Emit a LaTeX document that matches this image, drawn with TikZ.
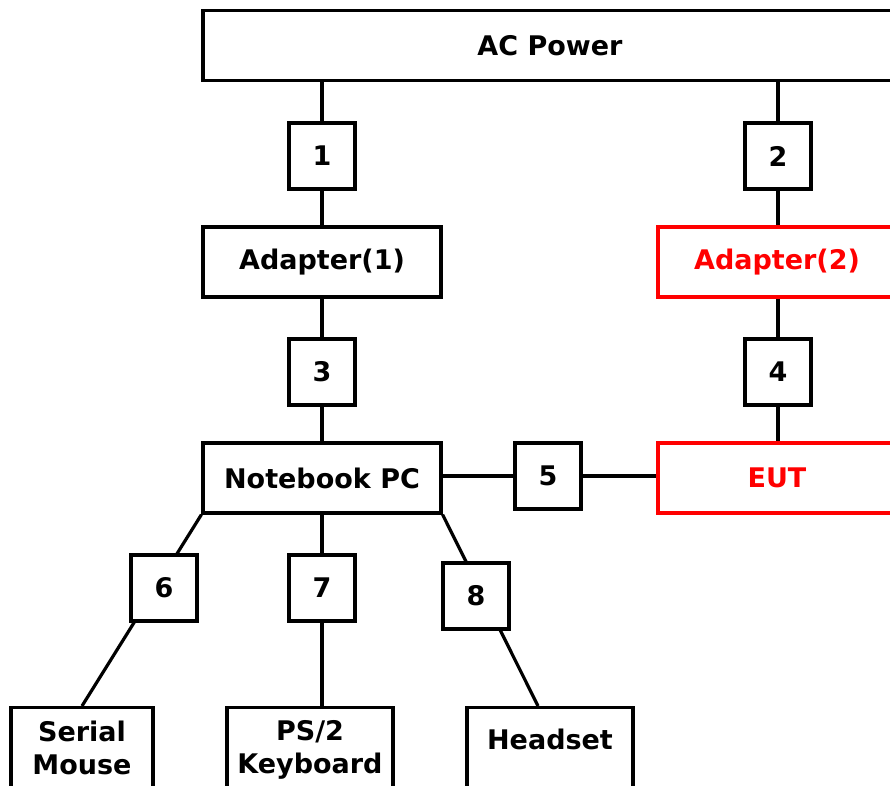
\documentclass[tikz,border=0pt]{standalone}
\usepackage{fontspec}
\setmainfont{DejaVu Sans}
\usetikzlibrary{positioning, backgrounds}

\begin{document}
\begin{tikzpicture}[
		x=1pt, y=-1pt,
		font=\fontsize{27}{33}\selectfont\bfseries,
		box/.style={
			draw,
			line width=3.2pt,
			fill=white,
			align=center,
			minimum width=238pt,
			minimum height=70pt,
			inner sep=0pt
		},
		eutbox/.style={box,draw=red,text=red},
		cablebox/.style={draw,line width=3.2pt,fill=white,minimum size=66pt,inner sep=0pt},
		endbox/.style={
			draw,
			line width=3.2pt,
			fill=white,
			align=center,
			anchor=north,
			inner xsep=0pt,
			inner ysep=13pt,
			text depth=70pt
		},
		link/.style={line width=3.2pt}
	]
	
	\useasboundingbox (0,0) rectangle (890,785);
	\clip (0,0) rectangle (890,785);
	
	\node[box,minimum width=694pt] (acpower) at (550,45.5) {AC Power};
	\node[cablebox] (c1) at (322,156) {1};
	\node[cablebox] (c2) at (778,156) {2};
	
	\node[box] (adapter1) at (322,262) {Adapter(1)};
	\node[eutbox] (adapter2) at (777,262) {Adapter(2)};
	\node[cablebox] (c3) at (322,372) {3};
	\node[cablebox] (c4) at (778,372) {4};
	
	\node[box] (notebook) at (322,478) {Notebook PC};
	\node[cablebox] (c5) at (548,476) {5};
	\node[eutbox] (eut) at (777,478) {EUT};
	
	\node[cablebox] (c6) at (164,588) {6};
	\node[cablebox] (c7) at (322,588) {7};
	\node[cablebox] (c8) at (476,596) {8};
	
	\node[endbox,minimum width=142pt] (mouse) at (82,706) {Serial\\Mouse};
	\node[endbox,minimum width=166pt] (keyboard) at (310,706) {PS/2\\Keyboard};
	\node[endbox,minimum width=166pt,inner ysep=21pt] (headset) at (550,706) {Headset};
	
	\begin{pgfonlayer}{background}
		\draw[link] (c1 |- acpower.south) -- (adapter1.north);
		\draw[link] (c2 |- acpower.south) -- (c2 |- adapter2.north);
		\draw[link] (adapter1.south) -- (notebook.north);
		\draw[link] (c4 |- adapter2.south) -- (c4 |- eut.north);
		\draw[link] (notebook.east |- c5) -- (eut.west |- c5);
		\draw[link] (notebook.south west) -- (mouse.north);
		\draw[link] (c7 |- notebook.south) -- (c7 |- keyboard.north);
		\draw[link] (notebook.south east) -- ([xshift=-12pt]headset.north);
	\end{pgfonlayer}
	
\end{tikzpicture}
\end{document}
